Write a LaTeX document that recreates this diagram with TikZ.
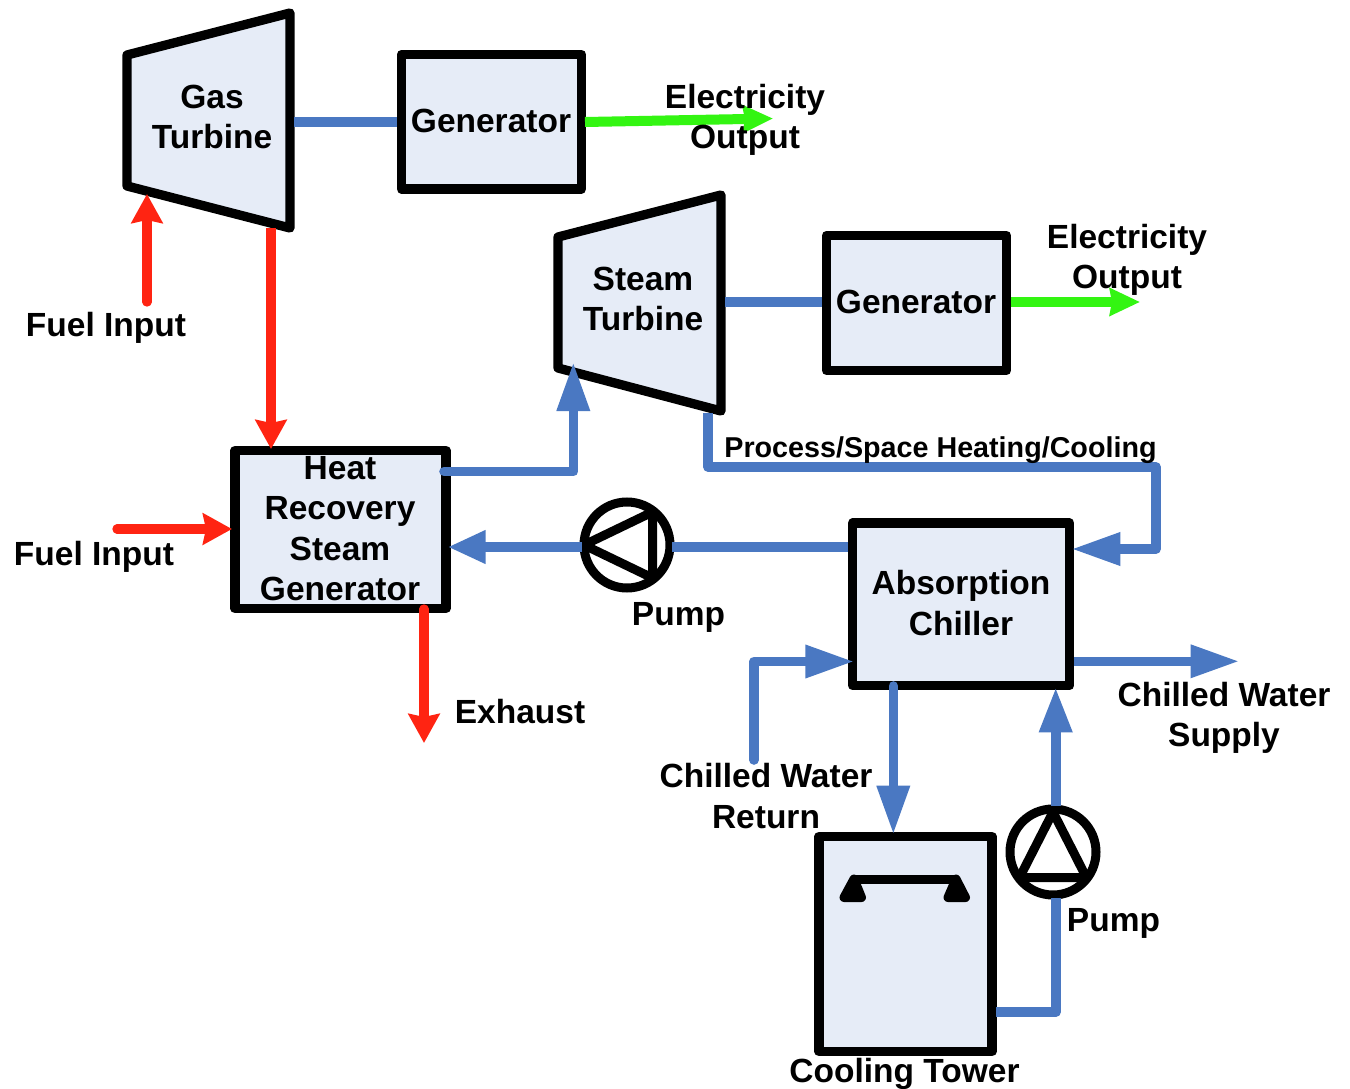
\documentclass[tikz,border=0pt]{standalone}
\usepackage{fontspec}
\setmainfont{Liberation Sans}
\usetikzlibrary{arrows.meta,calc}
\definecolor{boxfill}{HTML}{E6ECF7}
\definecolor{pipeblue}{HTML}{4A78C2}
\definecolor{fuelred}{HTML}{FF2412}
\definecolor{powergreen}{HTML}{33F512}
\tikzset{
 x=1pt,y=-1pt,
 unit/.style={draw=black,line width=9.3pt,fill=boxfill,line join=round},
 boxunit/.style={unit,inner sep=0pt,outer sep=0pt,anchor=north west,font=\lbl,align=center},
 lbl/.style={font=\lbl,align=center,inner sep=0pt},
 smalllbl/.style={font=\smalllblfont,inner sep=0pt},
 pipe/.style={draw=pipeblue,line width=9.6pt,line cap=round,line join=round},
 fuel/.style={draw=fuelred,line width=9.3pt,line cap=round},
 power/.style={draw=powergreen,line width=10pt},
 bluehead/.style={-{Triangle[length=49pt,width=31pt]}},
 shorthead/.style={-{Triangle[length=45pt,width=31pt]}},
 pumphead/.style={-{Triangle[length=38pt,width=31pt]}},
 redhead/.style={-{Stealth[length=29pt,width=31pt,inset=3pt]}},
 greenhead/.style={-{Stealth[length=30pt,width=27pt,inset=2pt]}},
 pumpring/.style={circle,draw=black,line width=9pt,fill=white,minimum size=86pt,inner sep=0pt},
 pumptri/.style={draw=black,line width=9pt,line join=round},
}
\newcommand{\lbl}{\bfseries\fontsize{33.5}{40.5}\selectfont}
\newcommand{\smalllblfont}{\bfseries\fontsize{28.7}{34}\selectfont}
\begin{document}
\begin{tikzpicture}
\useasboundingbox (0,0) rectangle (1350,1089);
% turbines
\draw[unit] (127,55) -- (290,13) -- (290,228) -- (127,186) -- cycle;
\draw[unit] (558,237) -- (721,195) -- (721,411) -- (558,368) -- cycle;
\node[lbl] (gtlabel) at (212,117) {Gas\\Turbine};
\node[lbl] (stlabel) at (643,299) {Steam\\Turbine};
% boxes
\node[boxunit,minimum width=180pt,minimum height=134.5pt] (gen1) at (401.5,54.5) {};
\node[boxunit,minimum width=180pt,minimum height=135pt] (gen2) at (826.5,235.5) {};
\node[boxunit,minimum width=211pt,minimum height=158pt] (hrsg) at (235,450.5) {};
\node[boxunit,minimum width=217pt,minimum height=162.5pt] (chiller) at (852.7,523) {};
\node[boxunit,minimum width=173pt,minimum height=215pt] (tower) at (819,836.5) {};
\node[lbl] (g1label) at (491,121) {Generator};
\node[lbl] (g2label) at (916,302) {Generator};
\node[lbl] (hrsglabel) at (340,528.5) {Heat\\Recovery\\Steam\\Generator};
\node[lbl] (chlabel) at (961,603) {Absorption\\Chiller};
% pumps
\node[pumpring] (pumpA) at (627,545) {};
\node[pumpring] (pumpB) at (1053,852) {};
\draw[pumptri] (584,545) -- (652.5,512) -- (652.5,578) -- cycle;
\draw[pumptri] (1053,812) -- (1019.6,877.5) -- (1086.4,877.5) -- cycle;
% fan
\draw[draw=black,line width=9pt,line join=round,fill=black] (844,897.5) -- (854,879) -- (861.5,897.5) -- cycle;
\draw[draw=black,line width=9pt,line join=round,fill=black] (948,897.5) -- (956,879) -- (965.5,897.5) -- cycle;
\draw[draw=black,line width=9pt] (854,879) -- (956,879);
% coordinates
\coordinate (a1) at (147,302);
\coordinate (a2) at (147,194);
\coordinate (a3) at (117,529);
\coordinate (a4) at (424,609);
\coordinate (a5) at (424,743);
\coordinate (a6) at (444,471.5);
\coordinate (a7) at (573.3,471.5);
\coordinate (a8) at (573.3,362);
\coordinate (a9) at (708,413);
\coordinate (a10) at (708,467);
\coordinate (a11) at (1156,467);
\coordinate (a12) at (1156,549);
\coordinate (a13) at (1071.3,549);
\coordinate (a14) at (754,760);
\coordinate (a15) at (754,661.5);
\coordinate (a16) at (1239.5,661.3);
\coordinate (a17) at (1056,1012);
\coordinate (a18) at (773,118.5);
\coordinate (a19) at (1140,302);
% red
\draw[fuel,redhead] (a1) -- (a2);
\draw[fuel,redhead,line cap=butt] (271,228) -- (271,449);
\draw[fuel,redhead] (a3) -- (232,529);
\draw[fuel,redhead] (a4) -- (a5);
% green
\draw[power,greenhead] (585,122) -- (a18);
\draw[power,greenhead] (1011,302) -- (a19);
% blue
\draw[pipe,line cap=butt] (294,122) -- (397,122);
\draw[pipe,line cap=butt] (725,302) -- (822,302);
\draw[pipe,bluehead] (a6) -- (a7) -- (a8);
\draw[pipe,bluehead,line cap=butt] (a9) -- (a10) -- (a11) -- (a12) -- (a13);
\draw[pipe,line cap=butt] (848,547) -- (672,547);
\draw[pipe,pumphead,line cap=butt] (582,547) -- (447.5,547);
\draw[pipe,bluehead] (a14) -- (a15) -- (854.3,661.5);
\draw[pipe,bluehead,line cap=butt] (1074,661.3) -- (a16);
\draw[pipe,bluehead] (893.3,686) -- (893.3,834.7);
\draw[pipe,line cap=butt] (996,1012) -- (a17) -- (1056,898);
\draw[pipe,shorthead,line cap=butt] (1055.7,806) -- (1055.7,687.3);
% labels
\node[lbl] (e1) at (745,120) {Electricity\\Output};
\node[lbl] (e2) at (1127,260) {Electricity\\Output};
\node[lbl] (f1) at (106,328) {Fuel Input};
\node[lbl] (f2) at (94,557) {Fuel Input};
\node[lbl] (ex) at (520,712) {Exhaust};
\node[lbl] (p1) at (678.5,617) {Pump};
\node[lbl] (p2) at (1113.5,923) {Pump};
\node[lbl] (cwr) at (766,796) {Chilled Water\\Return};
\node[lbl] (cws) at (1224,718) {Chilled Water\\Supply};
\node[lbl] (ct) at (904.5,1074) {Cooling Tower};
\node[smalllbl] (proc) at (940.5,450) {Process/Space Heating/Cooling};
\end{tikzpicture}
\end{document}
